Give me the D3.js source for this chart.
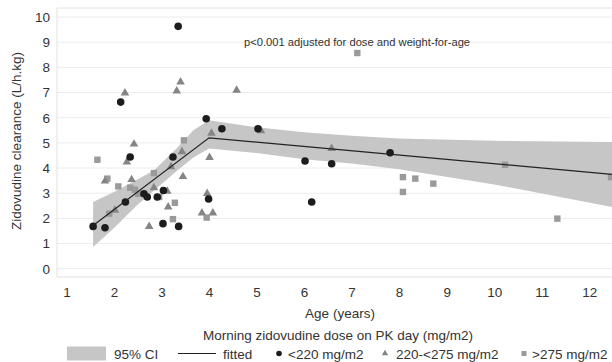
<!DOCTYPE html>
<html>
<head>
<meta charset="utf-8">
<script src="https://cdn.jsdelivr.net/npm/d3@7"></script>
<style>
  body { margin: 0; background: #fff; }
  svg { display: block; font-family: "Liberation Sans", Arial, sans-serif; }
</style>
</head>
<body>
<div id="chart"></div>
<script>
// values
var below220 = [[1.56,1.68],[1.81,1.63],[2.14,6.62],[2.24,2.65],[2.34,4.44],[2.63,2.98],[2.70,2.85],
  [2.91,2.85],[3.04,3.11],[3.03,1.79],[3.24,4.44],[3.35,9.63],[3.36,1.68],[3.94,5.96],[3.99,2.77],
  [4.27,5.56],[5.03,5.56],[6.02,4.28],[6.16,2.65],[6.58,4.17],[7.81,4.61]];
var mid220to275 = [[1.81,3.48],[2.02,2.32],[2.23,6.98],[2.27,4.24],[2.37,3.54],[2.42,4.95],[2.74,1.68],
  [2.84,3.22],[3.12,3.08],[3.14,2.45],[3.20,4.05],[3.32,7.06],[3.40,7.42],[3.43,4.65],[3.45,3.66],
  [3.85,2.21],[3.96,2.99],[4.01,4.42],[4.05,5.38],[4.08,2.21],[4.58,7.09],[5.09,5.48],[6.58,4.78]];
var above275 = [[1.65,4.33],[1.86,3.58],[1.90,2.19],[2.09,3.27],[2.34,3.22],[2.44,3.14],[2.51,2.98],
  [2.84,3.80],[2.95,2.85],[3.24,1.97],[3.28,2.62],[3.47,5.10],[3.95,2.03],[7.12,8.57],[8.08,3.64],
  [8.34,3.58],[8.72,3.38],[8.08,3.05],[10.23,4.13],[11.33,1.99],[12.46,3.64]];

var fittedAge = [1.56, 4.0, 12.48];
var fittedVal = [1.72, 5.2, 3.75];

var ciAge   = [1.56, 2.0, 2.5, 2.85, 3.3, 3.67, 4.0, 5.0, 6.0, 7.0, 8.0, 10.0, 12.48];
var ciLower = [0.86, 1.62, 2.55, 3.12, 3.85, 4.42, 4.78, 4.6, 4.35, 4.18, 3.95, 3.35, 2.45];
var ciUpper = [2.65, 3.05, 3.55, 3.92, 4.75, 5.5, 5.9, 5.62, 5.42, 5.28, 5.17, 5.08, 5.03];

var xTicks = [1,2,3,4,5,6,7,8,9,10,11,12];
var yTicks = [0,1,2,3,4,5,6,7,8,9,10];

var W = 612, H = 362;
var plotL = 57, plotT = 8, plotR = 612, plotB = 277;
var fs = 13.5;

var svg = d3.select("#chart").append("svg").attr("width", W).attr("height", H);

var x = d3.scaleLinear().domain([0.8, 12.48]).range([plotL, plotR]);
var y = d3.scaleLinear().domain([-0.33, 10.36]).range([plotB, plotT]);

// grid + frame
svg.append("g").selectAll("line").data(yTicks).enter().append("line")
  .attr("x1", plotL).attr("x2", plotR)
  .attr("y1", function(d){ return y(d); }).attr("y2", function(d){ return y(d); })
  .attr("stroke", "#ececec").attr("stroke-width", 1);
svg.append("path")
  .attr("d", "M" + plotR + "," + plotT + "H" + plotL + "V" + plotB + "H" + plotR)
  .attr("fill", "none").attr("stroke", "#e2e2e2");

// CI band
var band = ciAge.map(function(a, i){ return [a, ciLower[i], ciUpper[i]]; });
svg.append("path").datum(band)
  .attr("d", d3.area().x(function(d){ return x(d[0]); })
    .y0(function(d){ return y(d[1]); }).y1(function(d){ return y(d[2]); }))
  .attr("fill", "#c6c6c6");

// axes
var xAxis = svg.append("g").attr("transform", "translate(0," + plotB + ")")
  .call(d3.axisBottom(x).tickValues(xTicks).tickSize(0).tickPadding(10));
var yAxis = svg.append("g").attr("transform", "translate(" + plotL + ",0)")
  .call(d3.axisLeft(y).tickValues(yTicks).tickSize(0).tickPadding(7));
[xAxis, yAxis].forEach(function(g){
  g.select(".domain").remove();
  g.selectAll("text").attr("font-size", fs).attr("fill", "#333")
    .attr("font-family", "Liberation Sans, Arial, sans-serif");
});

// markers
var pts = svg.append("g");
pts.selectAll(".sq").data(above275).enter().append("rect")
  .attr("x", function(d){ return x(d[0]) - 3.2; }).attr("y", function(d){ return y(d[1]) - 3.2; })
  .attr("width", 6.4).attr("height", 6.4).attr("fill", "#9a9a9a");
var tri = d3.symbol().type(d3.symbolTriangle).size(32);
pts.selectAll(".tri").data(mid220to275).enter().append("path")
  .attr("d", tri)
  .attr("transform", function(d){ return "translate(" + x(d[0]) + "," + y(d[1]) + ")"; })
  .attr("fill", "#858585");
pts.selectAll(".dot").data(below220).enter().append("circle")
  .attr("cx", function(d){ return x(d[0]); }).attr("cy", function(d){ return y(d[1]); })
  .attr("r", 3.8).attr("fill", "#1c1c1c");

// fitted line
svg.append("path").datum(fittedAge.map(function(a, i){ return [a, fittedVal[i]]; }))
  .attr("d", d3.line().x(function(d){ return x(d[0]); }).y(function(d){ return y(d[1]); }))
  .attr("fill", "none").attr("stroke", "#222").attr("stroke-width", 1.2);

// annotation and titles
svg.append("text").attr("x", 244).attr("y", 46).attr("font-size", 11.2).attr("fill", "#333")
  .text("p<0.001 adjusted for dose and weight-for-age");
svg.append("text").attr("x", 340).attr("y", 318).attr("text-anchor", "middle")
  .attr("font-size", fs).attr("fill", "#333").text("Age (years)");
svg.append("text").attr("transform", "translate(21,141) rotate(-90)").attr("text-anchor", "middle")
  .attr("font-size", fs).attr("fill", "#333").text("Zidovudine clearance (L/h.kg)");
svg.append("text").attr("x", 338).attr("y", 340).attr("text-anchor", "middle")
  .attr("font-size", fs).attr("fill", "#333").text("Morning zidovudine dose on PK day (mg/m2)");

// legend
var ly = 353.5;
var lg = svg.append("g").attr("font-size", fs).attr("fill", "#333");
lg.append("rect").attr("x", 67).attr("y", ly - 7).attr("width", 39).attr("height", 14).attr("fill", "#c6c6c6");
lg.append("text").attr("x", 114).attr("y", ly + 5).text("95% CI");
lg.append("line").attr("x1", 178).attr("x2", 216).attr("y1", ly).attr("y2", ly)
  .attr("stroke", "#222").attr("stroke-width", 1.2);
lg.append("text").attr("x", 223).attr("y", ly + 5).text("fitted");
lg.append("circle").attr("cx", 279).attr("cy", ly).attr("r", 2.8).attr("fill", "#1c1c1c");
lg.append("text").attr("x", 288).attr("y", ly + 5).text("<220 mg/m2");
lg.append("path").attr("d", d3.symbol().type(d3.symbolTriangle).size(18))
  .attr("transform", "translate(385," + ly + ")").attr("fill", "#858585");
lg.append("text").attr("x", 396).attr("y", ly + 5).text("220-<275 mg/m2");
lg.append("rect").attr("x", 521.5).attr("y", ly - 2.5).attr("width", 5).attr("height", 5).attr("fill", "#9a9a9a");
lg.append("text").attr("x", 532).attr("y", ly + 5).text(">275 mg/m2");
</script>
</body>
</html>
